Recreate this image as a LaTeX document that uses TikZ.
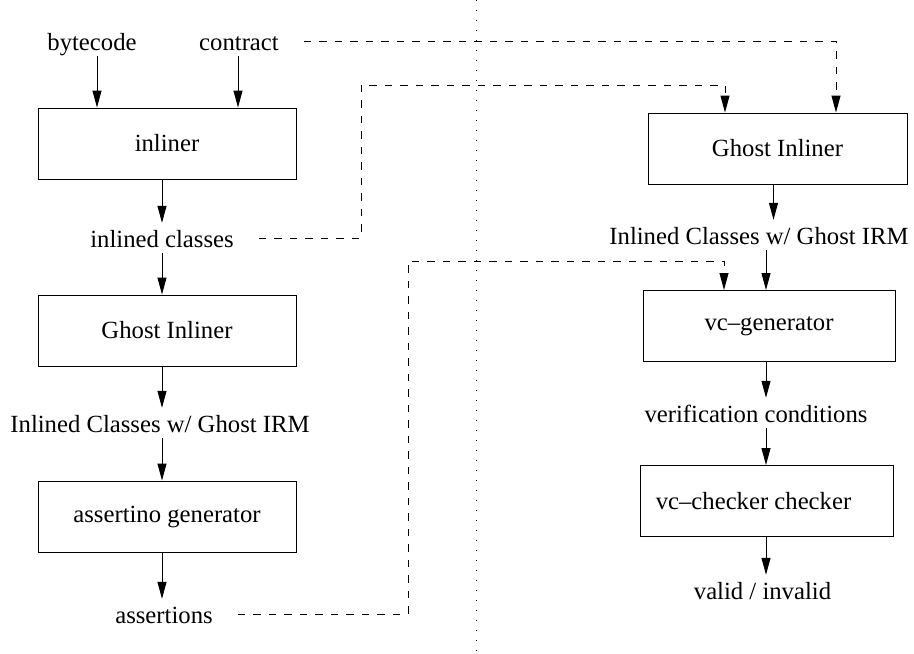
\documentclass[tikz,border=0pt]{standalone}
\usepackage{fontspec}
\setmainfont{Liberation Serif}
\usetikzlibrary{arrows.meta}

\tikzset{
  stage/.style={draw, line width=1pt, minimum height=71pt, inner sep=0pt},
  lbl/.style={inner xsep=3pt, inner ysep=3pt, text height=21pt, text depth=3pt, anchor=base},
  flow/.style={line width=1pt, -{Triangle[length=17pt,width=9pt]}},
  ghostflow/.style={flow, dash pattern=on 7.5pt off 8pt, shorten <=22pt},
}

\begin{document}
\begin{tikzpicture}[x=1pt, y=-1pt, every node/.style={font=\fontsize{24.7}{30}\selectfont}]
    \useasboundingbox (0,0) rectangle (914,654);

    % left column
    \node[lbl] (bytecode) at (92,50) {bytecode};
    \node[lbl] (contract) at (239,50) {contract};
    \node[stage, minimum width=258pt] (inliner) at (167,143.5) {inliner};
    \node[lbl] (inlc) at (162,247) {inlined classes};
    \node[stage, minimum width=258pt] (ghostL) at (167,330.5) {Ghost Inliner};
    \node[lbl] (irmL) at (160,432) {Inlined Classes w/ Ghost IRM};
    \node[stage, minimum width=258pt] (assertgen) at (167,516.5) {assertino generator};
    \node[lbl] (assertions) at (164,623) {assertions};

    % right column
    \node[stage, minimum width=259pt] (ghostR) at (777.5,148.5) {Ghost Inliner};
    \node[lbl] (irmR) at (759,244) {Inlined Classes w/ Ghost IRM};
    \node[stage, minimum width=252pt] (vcgen) at (769,326) {vc--generator};
    \node[lbl] (vcond) at (756,422) {verification conditions};
    \node[stage, minimum width=253pt] (vccheck) at (766.5,501) {vc--checker checker\hspace*{26pt}};
    \node[lbl] (result) at (762.5,599) {valid / invalid};

    \coordinate (colL) at (162,0);
    \coordinate (colR) at (766,0);
    \coordinate (in1) at (97,0);
    \coordinate (in2) at (238,0);
    \coordinate (up1) at (361,85);
    \coordinate (up2) at (408,261);
    \coordinate (gin1) at (725,0);
    \coordinate (gin2) at (836,0);
    \coordinate (vin) at (724,0);
    \coordinate (sepTop) at (476,0);
    \coordinate (sepBot) at (476,654);

    \draw[line width=1pt, dash pattern=on 1.2pt off 8.8pt] (sepTop) -- (sepBot);

    \draw[flow] (bytecode.south -| in1) -- (inliner.north -| in1);
    \draw[flow] (contract.south -| in2) -- (inliner.north -| in2);
    \draw[flow] (inliner.south -| colL) -- (inlc.north -| colL);
    \draw[flow] (inlc.south -| colL) -- (ghostL.north -| colL);
    \draw[flow] (ghostL.south -| colL) -- (irmL.north -| colL);
    \draw[flow] (irmL.south -| colL) -- (assertgen.north -| colL);
    \draw[flow] (assertgen.south -| colL) -- (assertions.north -| colL);

    \draw[flow] ([xshift=-4pt]ghostR.south) -- ([xshift=-4pt]ghostR.south |- irmR.north);
    \draw[flow] (irmR.south -| colR) -- (vcgen.north -| colR);
    \draw[flow] (vcgen.south -| colR) -- (vcond.north -| colR);
    \draw[flow] (vcond.south -| colR) -- (vccheck.north -| colR);
    \draw[flow] (vccheck.south -| colR) -- (result.north -| colR);

    \draw[ghostflow] (contract.east) -| (ghostR.north -| gin2);
    \draw[ghostflow] (inlc.east) -| (up1) -| (ghostR.north -| gin1);
    \draw[ghostflow] (assertions.east) -| (up2) -| (vcgen.north -| vin);
\end{tikzpicture}
\end{document}
